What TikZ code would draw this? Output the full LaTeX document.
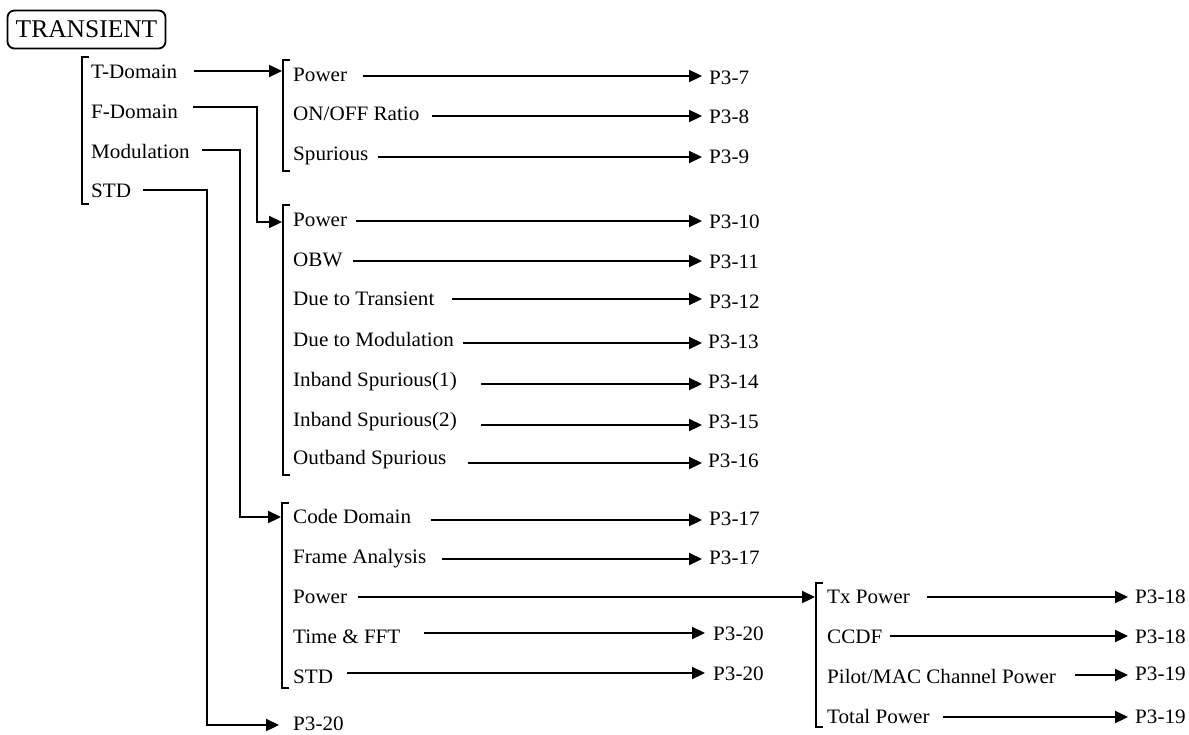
\documentclass[tikz,border=0pt]{standalone}
\usepackage{fontspec}
\setmainfont[FakeStretch=1.03]{Liberation Serif}
\newfontfamily\titlefont{Liberation Serif}
\usetikzlibrary{arrows.meta,calc}
\tikzset{
  lbl/.style={anchor=base west, inner sep=0pt, font=\fontsize{20.5}{23}\selectfont},
  pg/.style={anchor=base west, inner sep=0pt, font=\fontsize{20.5}{23}\selectfont},
  arr/.style={line width=2.2pt, -{Triangle[length=13pt,width=12pt]}},
  brk/.style={line width=2.2pt},
}
\begin{document}
\begin{tikzpicture}[x=1pt,y=-1pt]
\useasboundingbox (0,0) rectangle (1189,734);
% title
\node[draw, line width=1.8pt, rounded corners=7pt, minimum width=158pt, minimum height=38pt, inner sep=0pt,
      font=\titlefont\fontsize{25.5}{28}\selectfont] (title) at (86.5,29.5) {TRANSIENT};

% tip x references
\coordinate (tipA) at (702,0);
\coordinate (tipB) at (705,0);
\coordinate (tipC) at (1128,0);

% ---------- level 1
\draw[brk] (89,57) -- (82,57) -- (82,204) -- (89,204);
\node[lbl] (tdom) at (91,78) {T-Domain};
\node[lbl] (fdom) at (91,118) {F-Domain};
\node[lbl] (mod) at (91,158) {Modulation};
\node[lbl] (std) at (91,197) {STD};

% ---------- T-Domain bracket
\draw[brk] (290,60) -- (283,60) -- (283,171) -- (290,171);
\node[lbl] (tpow) at (293,81) {Power};
\node[lbl] (tonoff) at (293,120) {ON/OFF Ratio};
\node[lbl] (tspur) at (293,160) {Spurious};
\node[pg] (p37) at (709,84) {P3-7};
\node[pg] (p38) at (709,123) {P3-8};
\node[pg] (p39) at (709,163) {P3-9};
\coordinate (s1) at (363,76);
\coordinate (s2) at (432,116);
\coordinate (s3) at (378,157);
\draw[arr] (s1) -- (s1 -| tipA);
\draw[arr] (s2) -- (s2 -| tipA);
\draw[arr] (s3) -- (s3 -| tipA);

% ---------- F-Domain bracket
\draw[brk] (290,205) -- (283,205) -- (283,475) -- (290,475);
\node[lbl] (fpow) at (293,226) {Power};
\node[lbl] (fobw) at (293,266) {OBW};
\node[lbl] (fdtr) at (293,305) {Due to Transient};
\node[lbl] (fdmo) at (293,346) {Due to Modulation};
\node[lbl] (fin1) at (293,386) {Inband Spurious(1)};
\node[lbl] (fin2) at (293,426) {Inband Spurious(2)};
\node[lbl] (fout) at (293,464) {Outband Spurious};
\node[pg] (p310) at (709,228) {P3-10};
\node[pg] (p311) at (709,268) {P3-11};
\node[pg] (p312) at (709,308) {P3-12};
\node[pg] (p313) at (708,348) {P3-13};
\node[pg] (p314) at (708,388) {P3-14};
\node[pg] (p315) at (708,428) {P3-15};
\node[pg] (p316) at (708,467) {P3-16};
\coordinate (f1) at (356,221);
\coordinate (f2) at (353,261);
\coordinate (f3) at (452,299);
\coordinate (f4) at (463,343);
\coordinate (f5) at (481,384);
\coordinate (f6) at (481,425);
\coordinate (f7) at (468,463);
\foreach \c in {f1,f2,f3,f4,f5,f6,f7}{\draw[arr] (\c) -- (\c -| tipA);}

% ---------- Modulation bracket
\draw[brk] (289,503) -- (282,503) -- (282,688) -- (289,688);
\node[lbl] (mcode) at (293,523) {Code Domain};
\node[lbl] (mframe) at (293,563) {Frame Analysis};
\node[lbl] (mpow) at (293,603) {Power};
\node[lbl] (mtime) at (293,643) {Time \& FFT};
\node[lbl] (mstd) at (293,683) {STD};
\node[pg] (p317a) at (709,525) {P3-17};
\node[pg] (p317b) at (709,564) {P3-17};
\node[pg] (p320a) at (713,640) {P3-20};
\node[pg] (p320b) at (713,680) {P3-20};
\coordinate (m1) at (431,520);
\coordinate (m2) at (442,559);
\coordinate (m3) at (358,597);
\coordinate (m4) at (424,633);
\coordinate (m5) at (347,673);
\draw[arr] (m1) -- (m1 -| tipA);
\draw[arr] (m2) -- (m2 -| tipA);
\draw[arr] (m4) -- (m4 -| tipB);
\draw[arr] (m5) -- (m5 -| tipB);

% ---------- Power sub bracket
\draw[brk] (823,583) -- (816,583) -- (816,727) -- (823,727);
\coordinate (b5) at (815,597);
\draw[arr] (m3) -- (b5);
\node[lbl] (ptx) at (827,603) {Tx Power};
\node[lbl] (pccdf) at (827,643) {CCDF};
\node[lbl] (ppilot) at (827,683) {Pilot/MAC Channel Power};
\node[lbl] (ptot) at (827,723) {Total Power};
\node[pg] (p318a) at (1135,603) {P3-18};
\node[pg] (p318b) at (1135,643) {P3-18};
\node[pg] (p319a) at (1135,680) {P3-19};
\node[pg] (p319b) at (1135,723) {P3-19};
\coordinate (q1) at (927,597);
\coordinate (q2) at (890,636);
\coordinate (q3) at (1075,675);
\coordinate (q4) at (943,717);
\foreach \c in {q1,q2,q3,q4}{\draw[arr] (\c) -- (\c -| tipC);}

% ---------- bottom page ref
\node[pg] (p320c) at (293,730) {P3-20};

% ---------- level-1 connectors
\coordinate (t0) at (194,71);
\coordinate (t1) at (282,71);
\draw[arr] (t0) -- (t1);
\coordinate (fd0) at (193,107);
\coordinate (fd1) at (282,222);
\draw[arr] (fd0) -- (257,107) |- (fd1);
\coordinate (md0) at (202,150);
\coordinate (md1) at (281,517);
\draw[arr] (md0) -- (240,150) |- (md1);
\coordinate (sd0) at (143,190);
\coordinate (sd1) at (279,725);
\draw[arr] (sd0) -- (207,190) |- (sd1);
\end{tikzpicture}
\end{document}
